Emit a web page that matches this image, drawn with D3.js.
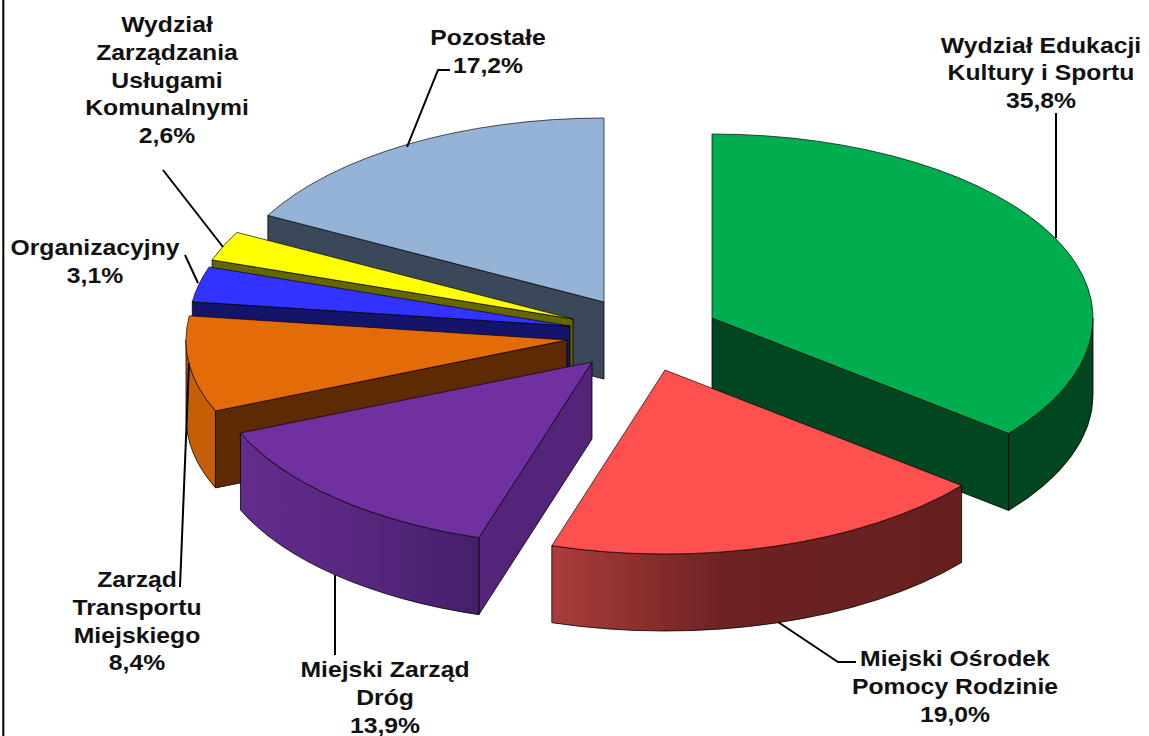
<!DOCTYPE html>
<html><head><meta charset="utf-8">
<script src="https://cdn.jsdelivr.net/npm/d3@7/dist/d3.min.js"></script>
<style>html,body{margin:0;padding:0;background:#fff;overflow:hidden}svg{display:block}
text{font-family:"Liberation Sans",Arial,sans-serif;font-weight:bold;font-size:22px;fill:#111;text-anchor:middle}</style>
</head><body><div id="chart"></div>
<script>
// DATA
const categories = ["Wydział Edukacji Kultury i Sportu","Miejski Ośrodek Pomocy Rodzinie","Miejski Zarząd Dróg","Zarząd Transportu Miejskiego","Organizacyjny","Wydział Zarządzania Usługami Komunalnymi","Pozostałe"];
const shares = [35.8,19.0,13.9,8.4,3.1,2.6,17.2];
const labelLines = [["Wydział Edukacji","Kultury i Sportu"],["Miejski Ośrodek","Pomocy Rodzinie"],["Miejski Zarząd","Dróg"],["Zarząd","Transportu","Miejskiego"],["Organizacyjny"],["Wydział","Zarządzania","Usługami","Komunalnymi"],["Pozostałe"]];
// STYLE / LAYOUT
const topColors  = ["#00AE50","#FF5050","#7030A0","#E36C09","#3333FF","#FFFF00","#95B3D7"];
const sideColors = ["#004621","#651F1F","#54247A","#5E2A04","#14146B","#666600","#3B4859"];
const wallStops  = [["#004621","#004621","#004621"],["#AA3C3C","#6E2222","#651F1F"],["#622C8C","#5A2882","#44206A"],["#C45F08","#C45F08","#C45F08"],["#14146B","#14146B","#14146B"],["#666600","#666600","#666600"],["#3B4859","#3B4859","#3B4859"]];
const apexes = [[712,318],[665,370],[592,362],[567,340],[570,326],[573,319],[604,302]];
const drawOrder = [6,5,4,3,2,0,1];
const labelAnchors = [[1041,52.5],[955,666],[385,677],[137,587],[95,255],[167,32],[488,45]];
const leaders = [
  [[1056,113],[1056,238]],
  [[778,622],[838,662],[856,662]],
  [[335,575],[335,655]],
  [[189,363],[180,587]],
  [[185,255],[198,283]],
  [[163,170],[223,247]],
  [[450,70],[438,70],[407,147]]
];
const W=1149,H=736,rx=381,ry=184,depth=77,lineStep=27.8,textStretch=1.125;

const svg=d3.select("#chart").append("svg").attr("width",W).attr("height",H);
const defs=svg.append("defs");
const slices=d3.pie().value(d=>d).sort(null)(shares);
const pt=(i,t,dy=0)=>[apexes[i][0]+rx*Math.sin(t),apexes[i][1]-ry*Math.cos(t)+dy];
const arc=(t0,t1,p,sweep)=>`A${rx},${ry} 0 ${Math.abs(t1-t0)>Math.PI?1:0} ${sweep} ${p[0]},${p[1]}`;

// frame line on the left
svg.append("line").attr("x1",3.3).attr("x2",3.3).attr("y1",0).attr("y2",H).attr("stroke","#000").attr("stroke-width",2);

slices.forEach((s,i)=>{
  const a=Math.max(s.startAngle,Math.PI/2), b=Math.min(s.endAngle,1.5*Math.PI);
  if(a<b){
    const g=defs.append("linearGradient").attr("id","w"+i).attr("gradientUnits","userSpaceOnUse")
      .attr("x1",d3.min([pt(i,a)[0],pt(i,b)[0]])).attr("x2",d3.max([pt(i,a)[0],pt(i,b)[0]])).attr("y1",0).attr("y2",0);
    g.selectAll("stop").data(wallStops[i]).join("stop")
      .attr("offset",(d,k)=>[0,0.42,1][k]).attr("stop-color",d=>d);
  }
});

const layer=svg.selectAll("g.slice").data(drawOrder).join("g").attr("class","slice");
layer.each(function(i){
  const g=d3.select(this), s=slices[i], t0=s.startAngle, t1=s.endAngle, c=apexes[i];
  const line="#000", sw=0.8;
  const wallRadial=t=>{
    const p=pt(i,t);
    return `M${c[0]},${c[1]}L${p[0]},${p[1]}L${p[0]},${p[1]+depth}L${c[0]},${c[1]+depth}Z`;
  };
  if(t0>=Math.PI) g.append("path").attr("d",wallRadial(t0)).attr("fill",sideColors[i]).attr("stroke",line).attr("stroke-width",sw);
  if(t1<=Math.PI) g.append("path").attr("d",wallRadial(t1)).attr("fill",sideColors[i]).attr("stroke",line).attr("stroke-width",sw);
  const a=Math.max(t0,Math.PI/2), b=Math.min(t1,1.5*Math.PI);
  if(a<b){
    const pa=pt(i,a),pb=pt(i,b),qa=pt(i,a,depth),qb=pt(i,b,depth);
    g.append("path").attr("d",`M${pa}${arc(a,b,pb,1)}L${qb}${arc(b,a,qa,0)}Z`)
      .attr("fill",`url(#w${i})`).attr("stroke",line).attr("stroke-width",sw);
  }
  const p0=pt(i,t0),p1=pt(i,t1);
  g.append("path").attr("d",`M${c}L${p0}${arc(t0,t1,p1,1)}Z`)
    .attr("fill",topColors[i]).attr("stroke",line).attr("stroke-opacity",0.85).attr("stroke-width",sw).attr("stroke-linejoin","round");
});

svg.selectAll("path.leader").data(leaders).join("path").attr("class","leader")
  .attr("d",d3.line()).attr("fill","none").attr("stroke","#000").attr("stroke-width",2);

const fmt=v=>v.toFixed(1).replace(".",",")+"%";
svg.selectAll("text").data(categories).join("text")
  .attr("transform",(d,i)=>`translate(${labelAnchors[i]}) scale(${textStretch},1)`)
  .each(function(d,i){
    const t=d3.select(this);
    [...labelLines[i],fmt(shares[i])].forEach((l,k)=>t.append("tspan").attr("x",0).attr("y",k*lineStep).text(l));
  });
</script></body></html>
